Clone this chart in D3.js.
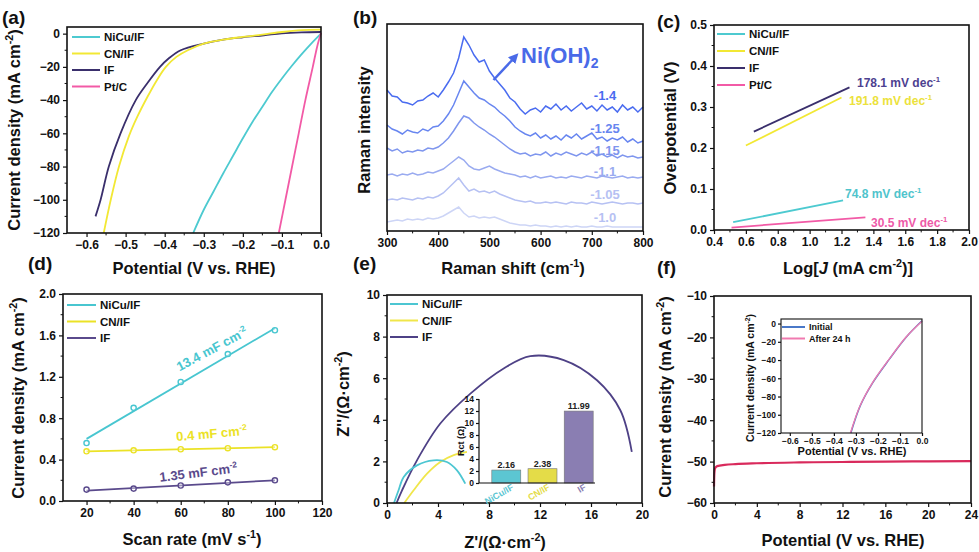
<!DOCTYPE html>
<html>
<head>
<meta charset="utf-8">
<script src="https://cdn.jsdelivr.net/npm/d3@7"></script>
<style>
  body { margin: 0; background: #fff; }
  svg { font-family: "Liberation Sans", Arial, sans-serif; font-weight: bold; }
</style>
</head>
<body>
<svg id="fig" width="979" height="552"></svg>
<script>
"use strict";

// ---------------- data ----------------
// (a) LSV polarisation curves: [potential V, current mA cm-2]
var lsvNiCu = [[0, 0], [-0.025, -6], [-0.05, -12.5], [-0.075, -19.5], [-0.1, -27], [-0.125, -35], [-0.15, -44], [-0.175, -53], [-0.2, -63], [-0.225, -73.5], [-0.25, -84], [-0.275, -95], [-0.3, -106], [-0.327, -120]];
var lsvCN = [[0, 2.4], [-0.05, 2.1], [-0.1, 1.0], [-0.15, -0.6], [-0.2, -2], [-0.25, -3.6], [-0.3, -6], [-0.341, -10], [-0.37, -14], [-0.397, -20], [-0.42, -28], [-0.444, -38], [-0.47, -50], [-0.492, -62], [-0.517, -80], [-0.538, -100], [-0.556, -120]];
var lsvIF = [[0, 1.0], [-0.05, 0.8], [-0.1, 0.2], [-0.146, -1], [-0.2, -2.2], [-0.25, -3.6], [-0.3, -6], [-0.359, -10], [-0.39, -15], [-0.412, -20], [-0.445, -30], [-0.474, -40], [-0.513, -60], [-0.543, -80], [-0.564, -100], [-0.577, -110]];
var lsvPtC = [[0, 0.5], [-0.01, -8], [-0.021, -20], [-0.04, -40], [-0.057, -60], [-0.074, -80], [-0.091, -100], [-0.108, -120]];

// (b) in-situ Raman spectra, shift grid 300..800 step 10 (intensity in arbitrary units)
var ramanShift = d3.range(300, 801, 10);
var ramanPotentials = ["-1.4", "-1.25", "-1.15", "-1.1", "-1.05", "-1.0"];
var raman14 = [141,135,134,129,128,126,130,131,135,138,134,141,149,158,173,194,186,176,169,171,160,153,147,141,133,129,122,117,121,123,119,125,122,127,121,125,120,124,128,122,125,120,126,121,124,119,126,121,124,119,124];
var raman125 = [106,102,100,97,101,99,98,102,100,104,105,110,117,126,138,150,144,138,133,131,127,124,119,115,110,104,100,97,95,98,93,96,92,95,91,96,93,97,92,95,98,92,94,90,93,91,94,89,92,88,90];
var raman115 = [83,80,82,78,80,79,81,80,83,82,84,88,93,100,108,115,113,108,104,101,97,94,90,86,82,79,77,78,75,77,76,79,75,78,76,79,77,75,78,76,79,75,77,74,76,73,76,74,75,73,74];
var raman11 = [56,57,55,57,56,58,56,57,59,58,60,62,66,70,74,71,65,62,61,63,65,62,60,58,57,56,54,55,53,55,53,54,55,53,54,53,55,54,53,55,54,53,55,54,53,54,55,53,54,53,54];
var raman105 = [31,32,31,33,32,31,33,32,34,33,35,38,43,48,53,46,40,42,39,40,38,40,37,35,33,31,30,29,30,28,28,29,28,29,28,27,29,28,28,27,29,28,27,28,29,28,27,28,28,27,28];
var raman10 = [9,10,11,10,12,11,12,11,13,12,13,15,18,21,24,18,14,15,13,14,13,14,12,10,8,7,6,6,5,6,5,5,4,5,4,5,4,5,4,4,5,4,4,5,4,4,4,4,4,4,4];
var ramanColors = ["#4a6cf0", "#6886f0", "#7f96ee", "#9aabf0", "#b6c1f3", "#cdd5f6"];

// (c) Tafel fits: [log J, overpotential V]
var tafelNiCu = [[0.52, 0.019], [1.21, 0.072]];
var tafelCN = [[0.6, 0.206], [1.2, 0.323]];
var tafelIF = [[0.65, 0.240], [1.25, 0.348]];
var tafelPtC = [[0.51, 0.006], [1.35, 0.031]];
var tafelSlopes = ["74.8", "191.8", "178.1", "30.5"];

// (d) double-layer capacitance
var scanRates = [20, 40, 60, 80, 100];
var cdlNiCu = [0.56, 0.90, 1.15, 1.42, 1.65];
var cdlCN = [0.48, 0.49, 0.50, 0.51, 0.52];
var cdlIF = [0.11, 0.12, 0.15, 0.18, 0.20];
var fitNiCu = [0.60, 1.67];
var fitCN = [0.48, 0.52];
var fitIF = [0.10, 0.20];
var cdlLabels = ["13.4", "0.4", "1.35"];

// (e) Nyquist plots: [Z', -Z'']
var eisNiCu = [[0.55, 0], [0.9, 0.6], [1.31, 1.25], [2.35, 1.81], [3.66, 2.05], [4.7, 1.97], [5.49, 1.57], [6.14, 0.93]];
var eisCN = [[1.36, 0], [2.09, 0.61], [3.14, 1.41], [4.18, 1.97], [5.23, 2.3], [6.27, 2.46]];
var eisIF = [[0.75, 0], [1.18, 0.61], [2.35, 2.05], [4.18, 3.82], [6.54, 5.26], [9.15, 6.47], [11.24, 7.06], [13.86, 6.87], [16.47, 5.9], [18.3, 4.46], [19.2, 2.46]];
var rctNames = ["NiCu/IF", "CN/IF", "IF"];
var rctValues = [2.16, 2.38, 11.99];

// (f) chronoamperometry and LSV before/after
var chrono = [[0, -56], [0.03, -53], [0.1, -51.6], [0.3, -51.1], [1, -50.8], [2, -50.6], [4, -50.4], [8, -50.2], [12, -50.1], [16, -50.0], [20, -49.95], [24, -49.9]];
var lsvInitial = [[0, 3], [-0.072, -15], [-0.148, -39], [-0.224, -65], [-0.28, -90], [-0.323, -120]];
var lsvAfter = [[0, 2.5], [-0.073, -15], [-0.149, -39], [-0.225, -65], [-0.281, -90], [-0.325, -120]];

var svg = d3.select("#fig");

// ---------------- helpers ----------------
// write text parts: [string, kind] kind 0 normal, 1 superscript, 2 italic
function rich(t, parts, fs) {
  var off = 0;
  parts.forEach(function(p) {
    var s = t.append("tspan").text(p[0]);
    if (p[1] === 1) {
      s.attr("font-size", fs * 0.65).attr("dy", -fs * 0.4 - off);
      off = -fs * 0.4;
    } else {
      if (off !== 0) s.attr("dy", -off);
      off = 0;
      if (p[1] === 2) s.attr("font-style", "italic");
    }
  });
  return t;
}

function title(x, y, parts, fs, rot) {
  var t = svg.append("text").attr("text-anchor", "middle").attr("font-size", fs).attr("fill", "#111");
  if (rot) t.attr("transform", "translate(" + x + "," + y + ") rotate(-90)");
  else t.attr("x", x).attr("y", y);
  return rich(t, parts, fs);
}

function axes(x, y, o) {
  var x0 = x.range()[0], x1 = x.range()[1], y0 = y.range()[0], y1 = y.range()[1];
  var fs = o.fs || 12, tl = o.tl || 4;
  var gx = svg.append("g").attr("transform", "translate(0," + y0 + ")")
    .call(d3.axisBottom(x).tickValues(o.xt).tickFormat(o.xf).tickSizeInner(tl).tickSizeOuter(0).tickPadding(o.pad || 3));
  var gy = svg.append("g").attr("transform", "translate(" + x0 + ",0)")
    .call(d3.axisLeft(y).tickValues(o.yt || []).tickFormat(o.yf).tickSizeInner(tl).tickSizeOuter(0).tickPadding(o.pad || 3));
  [gx, gy].forEach(function(g) {
    g.select(".domain").remove();
    g.selectAll("text").attr("font-size", fs).attr("fill", "#111").attr("font-family", null);
    g.selectAll("line").attr("stroke", "#111").attr("stroke-width", 1.2);
  });
  if (o.xm) {
    gx.selectAll(".mn").data(o.xm).enter().append("line")
      .attr("x1", function(d) { return x(d); }).attr("x2", function(d) { return x(d); })
      .attr("y2", tl * 0.6).attr("stroke", "#111");
  }
  if (o.ym) {
    gy.selectAll(".mn").data(o.ym).enter().append("line")
      .attr("y1", function(d) { return y(d); }).attr("y2", function(d) { return y(d); })
      .attr("x2", -tl * 0.6).attr("stroke", "#111");
  }
  if (o.open) {
    svg.append("path").attr("d", "M" + x0 + "," + y1 + "V" + y0 + "H" + x1)
      .attr("fill", "none").attr("stroke", "#111").attr("stroke-width", 1.2);
  } else {
    svg.append("rect").attr("x", x0).attr("y", y1).attr("width", x1 - x0).attr("height", y0 - y1)
      .attr("fill", "none").attr("stroke", "#111").attr("stroke-width", o.sw || 1.6);
  }
}

function legend(x, y, dy, names, colors, fs, len) {
  names.forEach(function(n, i) {
    svg.append("line").attr("x1", x).attr("x2", x + len).attr("y1", y + i * dy).attr("y2", y + i * dy)
      .attr("stroke", colors[i]).attr("stroke-width", 2);
    svg.append("text").attr("x", x + len + 4).attr("y", y + i * dy + fs * 0.36)
      .attr("font-size", fs).attr("fill", "#111").text(n);
  });
}

function panelTag(x, y, s) {
  svg.append("text").attr("x", x).attr("y", y).attr("font-size", 19).attr("fill", "#111").text(s);
}

function curve(x, y, data, color, w, kind) {
  svg.append("path").datum(data)
    .attr("d", d3.line().x(function(d) { return x(d[0]); }).y(function(d) { return y(d[1]); }).curve(kind || d3.curveCatmullRom.alpha(0.5)))
    .attr("fill", "none").attr("stroke", color).attr("stroke-width", w || 1.8);
}

var f1 = d3.format(".1f");

// ---------------- (a) ----------------
var cA = ["#4dcad0", "#f2e834", "#3a2f6c", "#f25aa6"];
var xA = d3.scaleLinear().domain([-0.65, 0]).range([67, 321]);
var yA = d3.scaleLinear().domain([-120, 4]).range([233, 27]);
curve(xA, yA, lsvIF, cA[2]);
curve(xA, yA, lsvCN, cA[1]);
curve(xA, yA, lsvNiCu, cA[0]);
curve(xA, yA, lsvPtC, cA[3]);
axes(xA, yA, {
  xt: [-0.6, -0.5, -0.4, -0.3, -0.2, -0.1, 0], xf: f1, xm: [-0.55, -0.45, -0.35, -0.25, -0.15, -0.05],
  yt: [0, -20, -40, -60, -80, -100, -120], yf: d3.format("d"), ym: [-10, -30, -50, -70, -90, -110]
});
legend(72, 37, 16.5, ["NiCu/IF", "CN/IF", "IF", "Pt/C"], cA, 11.5, 28);
title(194, 274, [["Potential (V vs. RHE)", 0]], 16.5);
title(20, 130, [["Current density (mA cm", 0], ["-2", 1], [")", 0]], 16.5, true);
panelTag(2, 24, "(a)");

// ---------------- (b) ----------------
var xB = d3.scaleLinear().domain([300, 800]).range([387, 643]);
var yB = d3.scaleLinear().domain([0, 207]).range([231, 24]);
var ramanSets = [raman14, raman125, raman115, raman11, raman105, raman10];
ramanSets.slice().reverse().forEach(function(s, k) {
  var i = ramanSets.length - 1 - k;
  curve(xB, yB, s.map(function(v, j) { return [ramanShift[j], v]; }), ramanColors[i], 1.5, d3.curveLinear);
});
var ramanLabelY = [95, 128, 150, 171, 194, 217];
ramanPotentials.forEach(function(p, i) {
  svg.append("text").attr("x", 605).attr("y", ramanLabelY[i] + 5).attr("text-anchor", "middle")
    .attr("font-size", 13).attr("fill", ramanColors[Math.min(i, 4)]).text(p);
});
axes(xB, yB, {
  xt: [300, 400, 500, 600, 700, 800], xf: d3.format("d"), xm: [350, 450, 550, 650, 750]
});
// arrow to Ni(OH)2
svg.append("defs").append("marker").attr("id", "ah").attr("viewBox", "0 0 10 10")
  .attr("refX", 5).attr("refY", 5).attr("markerWidth", 4).attr("markerHeight", 4).attr("orient", "auto")
  .append("path").attr("d", "M0,0L10,5L0,10z").attr("fill", "#4a6ae8");
svg.append("line").attr("x1", xB(508)).attr("y1", yB(151)).attr("x2", xB(550)).attr("y2", yB(174))
  .attr("stroke", "#4a6ae8").attr("stroke-width", 2.5).attr("marker-end", "url(#ah)");
var ni = svg.append("text").attr("x", 521).attr("y", 63).attr("font-size", 22).attr("fill", "#4a6ae8");
ni.append("tspan").text("Ni(OH)");
ni.append("tspan").attr("font-size", 14).attr("dy", 5).text("2");
title(513, 274, [["Raman shift (cm", 0], ["-1", 1], [")", 0]], 16.5);
title(370, 130, [["Raman intensity", 0]], 16.5, true);
panelTag(353, 24, "(b)");

// ---------------- (c) ----------------
var xC = d3.scaleLinear().domain([0.4, 2.0]).range([714, 969]);
var yC = d3.scaleLinear().domain([0, 0.5]).range([230, 25]);
var tafelSets = [tafelNiCu, tafelCN, tafelIF, tafelPtC];
var tafelLabelPos = [[845, 198], [849, 105], [857, 87], [871, 227]];
var tafelLabelCol = ["#4fc4cc", "#ece23c", "#4d4190", "#ee5aa8"];
tafelSets.forEach(function(s, i) {
  curve(xC, yC, s, cA[i], 1.8, d3.curveLinear);
  var t = svg.append("text").attr("x", tafelLabelPos[i][0]).attr("y", tafelLabelPos[i][1])
    .attr("font-size", 12).attr("fill", tafelLabelCol[i]);
  rich(t, [[tafelSlopes[i] + " mV dec", 0], ["-1", 1]], 12);
});
axes(xC, yC, {
  xt: [0.4, 0.6, 0.8, 1.0, 1.2, 1.4, 1.6, 1.8, 2.0], xf: f1, xm: [0.5, 0.7, 0.9, 1.1, 1.3, 1.5, 1.7, 1.9],
  yt: [0, 0.1, 0.2, 0.3, 0.4, 0.5], yf: f1, ym: [0.05, 0.15, 0.25, 0.35, 0.45]
});
legend(717, 34, 17, ["NiCu/IF", "CN/IF", "IF", "Pt/C"], cA, 11.5, 28);
title(848, 274, [["Log[", 0], ["J", 2], [" (mA cm", 0], ["-2", 1], [")]", 0]], 16.5);
title(676, 128, [["Overpotential (V)", 0]], 16.5, true);
panelTag(657, 28, "(c)");

// ---------------- (d) ----------------
var cD = ["#48c6d0", "#ebe226", "#5a4a8c"];
var xD = d3.scaleLinear().domain([10, 120]).range([63, 322]);
var yD = d3.scaleLinear().domain([0, 2]).range([501, 294]);
[[cdlNiCu, fitNiCu], [cdlCN, fitCN], [cdlIF, fitIF]].forEach(function(p, i) {
  curve(xD, yD, [[20, p[1][0]], [100, p[1][1]]], cD[i], 1.8, d3.curveLinear);
  svg.selectAll(".pt" + i).data(p[0]).enter().append("circle")
    .attr("cx", function(d, j) { return xD(scanRates[j]); }).attr("cy", function(d) { return yD(d); })
    .attr("r", 2.6).attr("fill", "#fff").attr("fill-opacity", 0.4).attr("stroke", cD[i]).attr("stroke-width", 1.4);
});
var cdlPos = [[214, 353, -28], [212, 438, -5], [199, 477, -7]];
cdlLabels.forEach(function(v, i) {
  var t = svg.append("text").attr("text-anchor", "middle").attr("font-size", 13).attr("fill", cD[i])
    .attr("transform", "translate(" + cdlPos[i][0] + "," + cdlPos[i][1] + ") rotate(" + cdlPos[i][2] + ")");
  rich(t, [[v + " mF cm", 0], ["-2", 1]], 13);
});
axes(xD, yD, {
  xt: [20, 40, 60, 80, 100, 120], xf: d3.format("d"), xm: [30, 50, 70, 90, 110],
  yt: [0, 0.4, 0.8, 1.2, 1.6, 2.0], yf: f1, ym: [0.2, 0.6, 1.0, 1.4, 1.8]
});
legend(67, 305, 16.5, ["NiCu/IF", "CN/IF", "IF"], cD, 11.5, 29);
title(192, 545, [["Scan rate (mV s", 0], ["-1", 1], [")", 0]], 16.5);
title(24, 398, [["Current density (mA cm", 0], ["-2", 1], [")", 0]], 16.5, true);
panelTag(28, 270, "(d)");

// ---------------- (e) ----------------
var cE = ["#4cc6d2", "#f0e64a", "#4e4186"];
var xE = d3.scaleLinear().domain([0, 20]).range([387, 642]);
var yE = d3.scaleLinear().domain([0, 10]).range([503, 295]);
curve(xE, yE, eisIF, cE[2], 1.8);
curve(xE, yE, eisCN, cE[1], 1.8);
curve(xE, yE, eisNiCu, cE[0], 1.8);
axes(xE, yE, {
  xt: [0, 4, 8, 12, 16, 20], xf: d3.format("d"), xm: [2, 6, 10, 14, 18],
  yt: [0, 2, 4, 6, 8, 10], yf: d3.format("d"), ym: [1, 3, 5, 7, 9]
});
legend(390, 304, 16.5, ["NiCu/IF", "CN/IF", "IF"], cE, 11.5, 28);
title(505, 548, [["Z'/(Ω·cm", 0], ["-2", 1], [")", 0]], 16.5);
title(349, 394, [["Z''/(Ω·cm", 0], ["-2", 1], [")", 0]], 16.5, true);
panelTag(353, 270, "(e)");

// inset bars
var barCol = ["#5cc6d2", "#e4dc48", "#8a7eb2"];
var xEi = d3.scaleBand().domain(rctNames).range([490, 595]).paddingInner(0.2).paddingOuter(0.05);
var yEi = d3.scaleLinear().domain([0, 14]).range([483, 399]);
svg.append("rect").attr("x", 479).attr("y", 397).attr("width", 118).attr("height", 88).attr("fill", "#fff");
svg.selectAll(".bar").data(rctValues).enter().append("rect")
  .attr("x", function(d, i) { return xEi(rctNames[i]); }).attr("width", xEi.bandwidth())
  .attr("y", function(d) { return yEi(d); }).attr("height", function(d) { return 483 - yEi(d); })
  .attr("fill", function(d, i) { return barCol[i]; }).attr("stroke", "#777").attr("stroke-width", 0.6);
svg.selectAll(".bv").data(rctValues).enter().append("text")
  .attr("x", function(d, i) { return xEi(rctNames[i]) + xEi.bandwidth() / 2; })
  .attr("y", function(d) { return yEi(d) - 2; }).attr("text-anchor", "middle")
  .attr("font-size", 9).attr("fill", "#222").text(function(d) { return d3.format(".2f")(d); });
var xEaxis = d3.scaleLinear().domain([0, 1]).range([479, 595]);
axes(xEaxis, yEi, {
  xt: [], xf: null, yt: [0, 2, 4, 6, 8, 10, 12, 14], yf: d3.format("d"), fs: 8.5, tl: 3, pad: 2, open: true
});
rctNames.forEach(function(n, i) {
  svg.append("text").attr("text-anchor", "end").attr("font-size", 9).attr("fill", barCol[i])
    .attr("transform", "translate(" + (xEi(n) + xEi.bandwidth() / 2 + 8) + ",489) rotate(-30)").text(n);
});
title(464, 441, [["Rct (Ω)", 0]], 9, true);

// ---------------- (f) ----------------
var xF = d3.scaleLinear().domain([0, 24]).range([714, 971]);
var yF = d3.scaleLinear().domain([-60, -10]).range([503, 296]);
curve(xF, yF, chrono, "#d92a5c", 2.2, d3.curveMonotoneX);
axes(xF, yF, {
  xt: [0, 4, 8, 12, 16, 20, 24], xf: d3.format("d"), xm: [2, 6, 10, 14, 18, 22],
  yt: [-10, -20, -30, -40, -50, -60], yf: d3.format("d"), ym: [-15, -25, -35, -45, -55]
});
title(843, 546, [["Potential (V vs. RHE)", 0]], 16.5);
title(671, 397, [["Current density (mA cm", 0], ["-2", 1], [")", 0]], 16.5, true);
panelTag(657, 274, "(f)");

// inset LSV
var xFi = d3.scaleLinear().domain([-0.64, 0]).range([781, 922]);
var yFi = d3.scaleLinear().domain([-120, 5]).range([433, 319]);
curve(xFi, yFi, lsvInitial, "#4a78c8", 1.5);
curve(xFi, yFi, lsvAfter, "#f07ab0", 1.3);
axes(xFi, yFi, {
  xt: [-0.6, -0.5, -0.4, -0.3, -0.2, -0.1, 0], xf: f1, yt: [0, -20, -40, -60, -80, -100, -120], yf: d3.format("d"),
  fs: 8.5, tl: 3, pad: 2, sw: 1.1
});
legend(782, 327, 11.5, ["Initial", "After 24 h"], ["#4a78c8", "#f07ab0"], 9, 23);
title(852, 455, [["Potential (V vs. RHE)", 0]], 11);
title(754, 378, [["Current density (mA cm", 0], ["-2", 1], [")", 0]], 10.5, true);
</script>
</body>
</html>
